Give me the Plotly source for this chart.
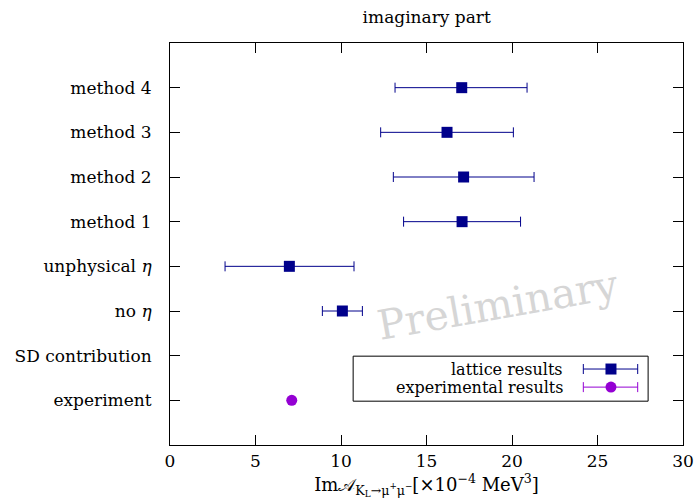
import plotly.graph_objects as go

# categories bottom -> top
categories = ["experiment", "SD contribution", "no <i>η</i>", "unphysical <i>η</i>",
              "method 1", "method 2", "method 3", "method 4"]

lattice_cats = ["no <i>η</i>", "unphysical <i>η</i>", "method 1", "method 2", "method 3", "method 4"]
lattice_val = [10.08, 6.98, 17.08, 17.17, 16.2, 17.06]
lattice_lo = [8.91, 3.22, 13.66, 13.06, 12.32, 13.16]
lattice_hi = [11.25, 10.76, 20.5, 21.29, 20.08, 20.88]

exp_cats = ["experiment"]
exp_val = [7.12]

x_ticks = [0, 5, 10, 15, 20, 25, 30]

BLUE = "#00008b"
PURPLE = "#9400d3"
FONT = "DejaVu Serif"

fig = go.Figure()

fig.add_trace(go.Scatter(
    x=lattice_val, y=lattice_cats, mode="markers",
    marker=dict(symbol="square", size=11, color=BLUE),
    error_x=dict(type="data", symmetric=False,
                 array=[h - v for h, v in zip(lattice_hi, lattice_val)],
                 arrayminus=[v - l for v, l in zip(lattice_val, lattice_lo)],
                 color=BLUE, thickness=1, width=5),
    showlegend=False,
))
fig.add_trace(go.Scatter(
    x=exp_val, y=exp_cats, mode="markers",
    marker=dict(symbol="circle", size=11, color=PURPLE),
    showlegend=False,
))
# keep SD contribution category present
fig.add_trace(go.Scatter(x=[None], y=["SD contribution"], mode="markers", showlegend=False))

fig.update_layout(
    width=695, height=502,
    margin=dict(l=170, r=12, t=43, b=57, autoexpand=False),
    paper_bgcolor="white", plot_bgcolor="white",
    font=dict(family=FONT, size=17, color="black"),
    title=dict(text="imaginary part", x=0.614, xanchor="center", y=0.967, yanchor="middle",
               font=dict(family=FONT, size=17)),
    xaxis=dict(range=[0, 30], tickvals=x_ticks, ticks="inside", ticklen=10,
               showline=True, linecolor="black", linewidth=1, mirror="allticks",
               showgrid=False, zeroline=False, tickcolor="black", automargin=False,
               ticklabelstandoff=1,
               title=dict(text="Im𝒜<sub>K<sub>L</sub>→μ<sup>+</sup>μ<sup>−</sup></sub>[×10<sup>−4</sup> MeV<sup>3</sup>]",
                          standoff=7, font=dict(family=FONT, size=18))),
    yaxis=dict(type="category", categoryorder="array", categoryarray=categories,
               range=[-1, 8], ticks="inside", ticklen=10,
               showline=True, linecolor="black", linewidth=1, mirror="allticks",
               showgrid=False, zeroline=False, tickcolor="black", automargin=False,
               ticklabelstandoff=14),
)

# watermark
fig.add_annotation(x=19.2, y=2.14, xref="x", yref="y", text="Preliminary", showarrow=False,
                   textangle=-10, font=dict(family=FONT, size=41, color="#d6d6d6"))

# manual legend (text left of sample, as in reference)
fig.add_shape(type="rect", xref="paper", yref="paper", x0=0.357, x1=0.932, y0=0.109, y1=0.221,
              line=dict(color="black", width=1), fillcolor="white", layer="above")
rows = [("lattice results", 0.189, BLUE, "square"), ("experimental results", 0.144, PURPLE, "circle")]
for label, yp, col, sym in rows:
    fig.add_annotation(x=0.770, y=yp, xref="paper", yref="paper", text=label, showarrow=False,
                       xanchor="right", yanchor="middle", font=dict(family=FONT, size=16))
    fig.add_shape(type="line", xref="paper", yref="paper", x0=0.8057, x1=0.9117, y0=yp, y1=yp,
                  line=dict(color=col, width=1), layer="above")
    for xe in (0.8057, 0.9117):
        fig.add_shape(type="line", xref="paper", yref="paper", ysizemode="pixel", yanchor=yp,
                      x0=xe, x1=xe, y0=-5, y1=5, line=dict(color=col, width=1), layer="above")
    fig.add_shape(type="rect" if sym == "square" else "circle", xref="paper", yref="paper",
                  xsizemode="pixel", ysizemode="pixel", xanchor=0.8596, yanchor=yp,
                  x0=-5.5, x1=5.5, y0=-5.5, y1=5.5, line=dict(width=0), fillcolor=col, layer="above")

fig.write_html("out.html")
